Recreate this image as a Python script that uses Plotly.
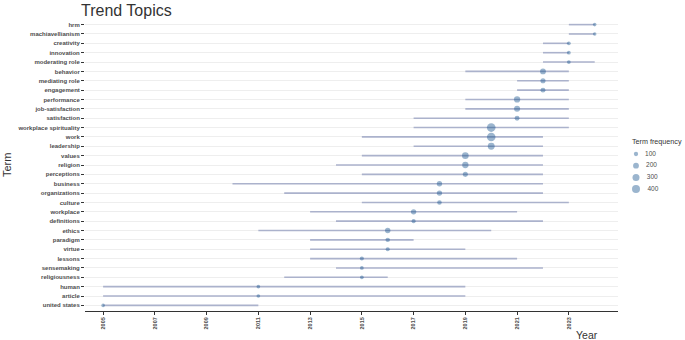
import math
import plotly.graph_objects as go

# Trend topics: first quartile year, median year and third quartile year per term
terms = [
    "hrm", "machiavellianism", "creativity", "innovation", "moderating role",
    "behavior", "mediating role", "engagement", "performance", "job-satisfaction",
    "satisfaction", "workplace spirituality", "work", "leadership", "values",
    "religion", "perceptions", "business", "organizations", "culture",
    "workplace", "definitions", "ethics", "paradigm", "virtue",
    "lessons", "sensemaking", "religiousness", "human", "article", "united states",
]
year_q1 = [
    2023, 2023, 2022, 2022, 2022,
    2019, 2021, 2021, 2019, 2019,
    2017, 2017, 2015, 2017, 2015,
    2014, 2015, 2010, 2012, 2015,
    2013, 2014, 2011, 2013, 2013,
    2013, 2014, 2012, 2005, 2005, 2005,
]
year_median = [
    2024, 2024, 2023, 2023, 2023,
    2022, 2022, 2022, 2021, 2021,
    2021, 2020, 2020, 2020, 2019,
    2019, 2019, 2018, 2018, 2018,
    2017, 2017, 2016, 2016, 2016,
    2015, 2015, 2015, 2011, 2011, 2005,
]
year_q3 = [
    2024, 2024, 2023, 2023, 2024,
    2023, 2023, 2023, 2023, 2023,
    2023, 2023, 2022, 2022, 2022,
    2022, 2022, 2022, 2022, 2023,
    2021, 2022, 2020, 2017, 2019,
    2021, 2022, 2016, 2019, 2019, 2011,
]
term_freq = [
    60, 58, 72, 74, 70,
    200, 150, 140, 235, 215,
    135, 470, 460, 290, 265,
    240, 145, 165, 160, 115,
    165, 90, 170, 110, 85,
    85, 70, 68, 65, 65, 62,
]
legend_freq = [100, 200, 300, 400]
x_ticks = list(range(2005, 2024, 2))

FONT = "Liberation Sans, Arial, sans-serif"
DOT = "rgba(16,78,139,0.6)"
SEG = "#abb2cc"

W, H = 685, 340
ML, MT, MB = 85, 19, 29
PANEL_R = 618  # right edge of the main panel, px


def dot_size(freq):
    # area grows linearly with frequency
    return math.sqrt(3.3 + 0.152 * freq)


seg_x, seg_y = [], []
for t, a, b in zip(terms, year_q1, year_q3):
    seg_x += [a, b, None]
    seg_y += [t, t, None]

plot_w = W - ML
fig = go.Figure()
fig.add_trace(go.Scatter(
    x=seg_x, y=seg_y, mode="lines",
    line=dict(color=SEG, width=1.6),
    showlegend=False, hoverinfo="skip",
))
fig.add_trace(go.Scatter(
    x=year_median, y=terms, mode="markers",
    marker=dict(color=DOT, size=[dot_size(f) for f in term_freq], line=dict(width=0)),
    showlegend=False,
))

# size key drawn on its own pixel-scaled axes at the right
key_y = [154 + 11.7 * i for i in range(len(legend_freq))]
fig.add_trace(go.Scatter(
    x=[11] * len(legend_freq), y=key_y, mode="markers+text",
    marker=dict(color=DOT, size=[dot_size(f) for f in legend_freq], line=dict(width=0)),
    text=["   " + str(f) for f in legend_freq], textposition="middle right",
    textfont=dict(size=6.5, color="#4d4d4d", family=FONT),
    xaxis="x2", yaxis="y2", showlegend=False, hoverinfo="skip", cliponaxis=False,
))

fig.update_layout(
    width=W, height=H,
    margin=dict(l=ML, r=0, t=MT, b=MB),
    paper_bgcolor="white", plot_bgcolor="white",
    font=dict(family=FONT, color="#4d4d4d"),
    showlegend=False,
    xaxis=dict(
        domain=[0, (PANEL_R - ML) / plot_w],
        range=[2004.3, 2024.9],
        tickmode="array", tickvals=x_ticks, ticktext=[str(v) for v in x_ticks],
        tickangle=-90,
        tickfont=dict(size=5.5, family=FONT, color="#4d4d4d", weight="bold"),
        ticks="outside", ticklen=3, tickcolor="#333333",
        showline=True, linecolor="#333333", linewidth=1,
        showgrid=False, zeroline=False,
    ),
    yaxis=dict(
        type="category",
        categoryorder="array", categoryarray=terms[::-1],
        range=[-0.6, len(terms) - 0.4],
        tickfont=dict(size=6, family=FONT, color="#4d4d4d", weight="bold"),
        ticks="outside", ticklen=3, tickcolor="#333333",
        showline=False,
        showgrid=True, gridcolor="#eeeeee", gridwidth=1,
        zeroline=False,
    ),
    xaxis2=dict(
        domain=[(625 - ML) / plot_w, 1.0], range=[0, 60], anchor="y2",
        visible=False, fixedrange=True,
    ),
    yaxis2=dict(
        domain=[0, 1], range=[H - MB, MT], anchor="x2",
        visible=False, fixedrange=True,
    ),
    annotations=[
        dict(text="Trend Topics", xref="paper", yref="paper",
             x=-6 / plot_w, y=1.0, xanchor="left", yanchor="bottom", yshift=-2,
             showarrow=False, font=dict(size=16, color="#333333", family=FONT)),
        dict(text="Year", xref="paper", yref="paper",
             x=(587 - ML) / plot_w, y=-0.082, xanchor="center", yanchor="middle",
             showarrow=False, font=dict(size=10.5, color="#333333", family=FONT)),
        dict(text="Term", xref="paper", yref="paper",
             x=(7 - ML) / plot_w, y=0.5, xanchor="center", yanchor="middle", textangle=-90,
             showarrow=False, font=dict(size=11, color="#333333", family=FONT)),
        dict(text="Term frequency", xref="paper", yref="paper",
             x=(630 - ML) / plot_w, y=(H - MB - 141) / (H - MT - MB),
             xanchor="left", yanchor="middle",
             showarrow=False, font=dict(size=7.2, color="#333333", family=FONT)),
    ],
)

fig.write_html("out.html")
